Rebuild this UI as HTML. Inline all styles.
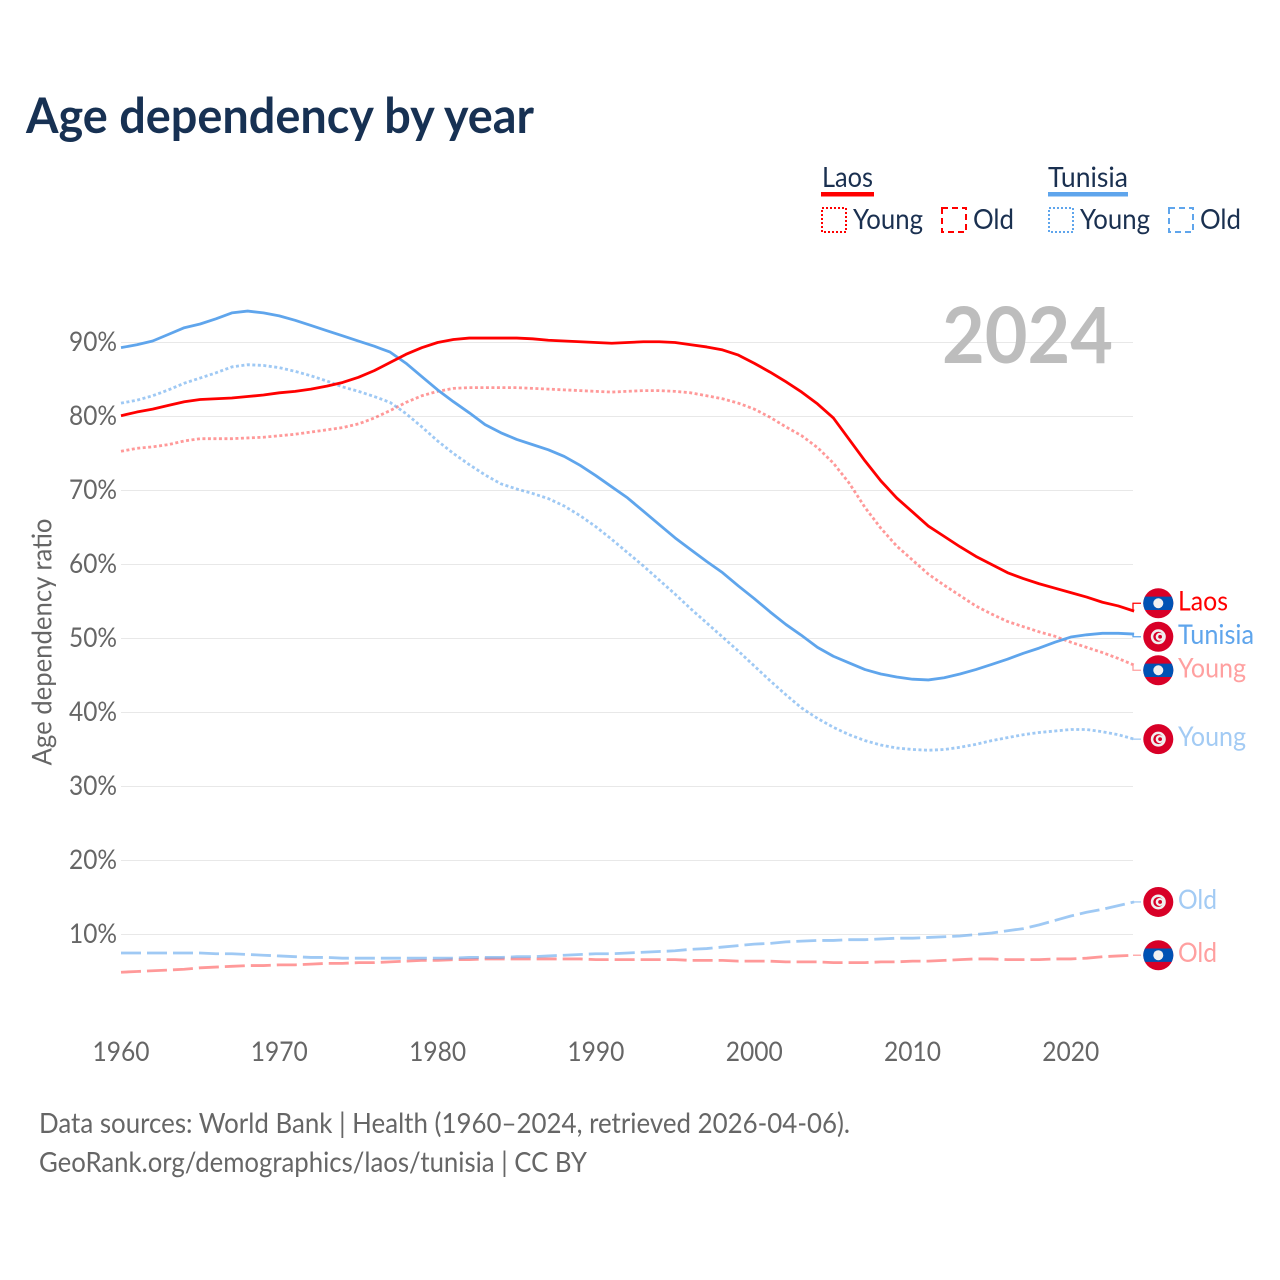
<!DOCTYPE html>
<html lang="en">
<head>
<meta charset="utf-8">
<title>Age dependency by year</title>
<style>
html,body{margin:0;padding:0;background:#fff;}
svg{display:block;font-family:"Lato","Carlito","Liberation Sans",sans-serif;}
</style>
</head>
<body>
<svg id="chart" xmlns="http://www.w3.org/2000/svg" width="1280" height="1280" viewBox="0 0 1280 1280">
  <rect width="1280" height="1280" fill="#fff"/>
  <text x="26" y="133" font-size="49" font-weight="700" fill="#173153" textLength="508" lengthAdjust="spacingAndGlyphs">Age dependency by year</text>

  <g font-size="28" fill="#1a3050">
    <g>
      <text x="822" y="187" textLength="51" lengthAdjust="spacingAndGlyphs">Laos</text>
      <rect x="821" y="192" width="53" height="4.5" fill="#ff0000"/>
      <rect x="822" y="208" width="24" height="24" fill="none" stroke="#ff0000" stroke-width="2" stroke-dasharray="2 2"/>
      <text x="853" y="229" textLength="70" lengthAdjust="spacingAndGlyphs">Young</text>
      <rect x="942" y="208" width="24" height="24" fill="none" stroke="#ff0000" stroke-width="2" stroke-dasharray="6 4"/>
      <text x="973" y="229" textLength="41" lengthAdjust="spacingAndGlyphs">Old</text>
    </g>
    <g>
      <text x="1048" y="187" textLength="80" lengthAdjust="spacingAndGlyphs">Tunisia</text>
      <rect x="1048" y="192" width="80" height="4.5" fill="#5fa5ec"/>
      <rect x="1049" y="208" width="24" height="24" fill="none" stroke="#5fa5ec" stroke-width="2" stroke-dasharray="2 2"/>
      <text x="1080" y="229" textLength="70" lengthAdjust="spacingAndGlyphs">Young</text>
      <rect x="1169" y="208" width="24" height="24" fill="none" stroke="#5fa5ec" stroke-width="2" stroke-dasharray="6 4"/>
      <text x="1200" y="229" textLength="41" lengthAdjust="spacingAndGlyphs">Old</text>
    </g>
  </g>

  <g id="grid"></g>
  <g id="yticks"></g>
  <g id="xticks"></g>
  <text transform="translate(51.5 642) rotate(-90)" text-anchor="middle" font-size="27" fill="#666" textLength="247" lengthAdjust="spacingAndGlyphs">Age dependency ratio</text>
  <text x="1113" y="363" text-anchor="end" font-size="78" font-weight="700" fill="#bdbdbd" textLength="171" lengthAdjust="spacingAndGlyphs">2024</text>
  <g id="lines"></g>
  <g id="labels"></g>

  <text x="39" y="1133" font-size="28" fill="#666" textLength="811" lengthAdjust="spacingAndGlyphs">Data sources: World Bank | Health (1960–2024, retrieved 2026-04-06).</text>
  <text x="39" y="1172" font-size="28" fill="#666" textLength="548" lengthAdjust="spacingAndGlyphs">GeoRank.org/demographics/laos/tunisia | CC BY</text>
</svg>
<script>
const startYear = 1960;
const xTickLabels = ["1960","1970","1980","1990","2000","2010","2020"];
const yTickValues = [10,20,30,40,50,60,70,80,90];

const laosTotal = [
  80.1,80.6,81.0,81.5,82.0,82.3,82.4,82.5,82.7,82.9,
  83.2,83.4,83.7,84.1,84.6,85.3,86.2,87.3,88.4,89.3,
  90.0,90.4,90.6,90.6,90.6,90.6,90.5,90.3,90.2,90.1,
  90.0,89.9,90.0,90.1,90.1,90.0,89.7,89.4,89.0,88.3,
  87.2,86.0,84.7,83.3,81.7,79.8,76.9,74.0,71.3,69.0,
  67.1,65.2,63.8,62.4,61.1,60.0,58.9,58.1,57.4,56.8,
  56.2,55.6,54.9,54.4,53.7
];
const tunisiaTotal = [
  89.3,89.7,90.2,91.1,92.0,92.5,93.2,94.0,94.25,94.0,
  93.6,93.0,92.3,91.6,90.9,90.2,89.5,88.7,87.2,85.4,
  83.6,82.0,80.5,78.9,77.8,76.9,76.2,75.5,74.6,73.4,
  72.0,70.5,69.0,67.2,65.4,63.6,62.0,60.4,58.9,57.1,
  55.4,53.6,51.9,50.4,48.8,47.6,46.7,45.8,45.2,44.8,
  44.5,44.4,44.7,45.2,45.8,46.5,47.2,48.0,48.7,49.5,
  50.2,50.5,50.7,50.7,50.6
];
const laosYoung = [
  75.3,75.7,75.9,76.2,76.7,77.0,77.0,77.0,77.1,77.2,
  77.4,77.6,77.9,78.2,78.5,79.0,79.8,80.8,81.9,82.8,
  83.4,83.8,83.9,83.9,83.9,83.9,83.8,83.7,83.6,83.5,
  83.4,83.3,83.4,83.5,83.5,83.4,83.2,82.8,82.4,81.8,
  81.0,79.9,78.6,77.4,75.8,73.7,71.0,67.7,64.9,62.5,
  60.6,58.7,57.2,55.8,54.4,53.3,52.3,51.6,50.9,50.3,
  49.5,48.8,48.1,47.3,46.4
];
const tunisiaYoung = [
  81.8,82.2,82.8,83.6,84.5,85.2,85.9,86.7,87.0,86.9,
  86.6,86.1,85.5,84.8,84.0,83.4,82.7,81.9,80.4,78.6,
  76.7,75.0,73.5,72.1,70.9,70.2,69.6,68.9,67.9,66.6,
  65.1,63.4,61.6,59.8,57.9,56.0,54.0,52.1,50.2,48.3,
  46.3,44.3,42.4,40.6,39.2,38.0,37.0,36.2,35.6,35.2,
  35.0,34.9,35.0,35.3,35.7,36.2,36.6,37.0,37.3,37.5,
  37.7,37.7,37.4,37.0,36.4
];
const laosOld = [
  4.9,5.0,5.1,5.2,5.3,5.5,5.6,5.7,5.8,5.8,
  5.9,5.9,6.0,6.1,6.1,6.2,6.2,6.3,6.4,6.5,
  6.5,6.6,6.6,6.7,6.7,6.7,6.7,6.7,6.7,6.7,
  6.6,6.6,6.6,6.6,6.6,6.6,6.5,6.5,6.5,6.4,
  6.4,6.4,6.3,6.3,6.3,6.2,6.2,6.2,6.3,6.3,
  6.4,6.4,6.5,6.6,6.7,6.7,6.6,6.6,6.6,6.7,
  6.7,6.8,7.0,7.1,7.2
];
const tunisiaOld = [
  7.5,7.5,7.5,7.5,7.5,7.5,7.4,7.4,7.3,7.2,
  7.1,7.0,6.9,6.9,6.8,6.8,6.8,6.8,6.8,6.8,
  6.8,6.8,6.9,6.9,6.9,7.0,7.0,7.1,7.2,7.3,
  7.4,7.4,7.5,7.6,7.7,7.8,8.0,8.1,8.3,8.5,
  8.7,8.8,9.0,9.1,9.2,9.2,9.3,9.3,9.4,9.5,
  9.5,9.6,9.7,9.8,10.0,10.2,10.5,10.8,11.3,11.9,
  12.5,13.0,13.4,13.9,14.4
];

const NS = "http://www.w3.org/2000/svg";
const xScale = year => 121 + (year - startYear) * 15.83;
const yScale = v => 1008.5 - 7.4 * v;

function make(tag, attrs, parent, text) {
  const node = document.createElementNS(NS, tag);
  for (const k in attrs) node.setAttribute(k, attrs[k]);
  if (text !== undefined) node.textContent = text;
  parent.appendChild(node);
  return node;
}

const series = [
  {key:"laos-old", values:laosOld, country:"laos", label:"Old", color:"#ff0000", lineOpacity:.4, labelColor:"#ffa0a0", dash:"20 6", labelWidth:39},
  {key:"tunisia-old", values:tunisiaOld, country:"tunisia", label:"Old", color:"#5fa5ec", lineOpacity:.6, labelColor:"#a3cbf4", dash:"20 6", labelWidth:39},
  {key:"laos-young", values:laosYoung, country:"laos", label:"Young", color:"#ff0000", lineOpacity:.4, labelColor:"#ffa0a0", dash:"3 2.5", labelWidth:68},
  {key:"tunisia-young", values:tunisiaYoung, country:"tunisia", label:"Young", color:"#5fa5ec", lineOpacity:.6, labelColor:"#a3cbf4", dash:"3 2.5", labelWidth:68},
  {key:"tunisia-total", values:tunisiaTotal, country:"tunisia", label:"Tunisia", color:"#5fa5ec", lineOpacity:1, labelColor:"#5fa5ec", dash:"", labelWidth:76},
  {key:"laos-total", values:laosTotal, country:"laos", label:"Laos", color:"#ff0000", lineOpacity:1, labelColor:"#ff0000", dash:"", labelWidth:50}
];

const gridG = document.getElementById("grid");
const yG = document.getElementById("yticks");
const xG = document.getElementById("xticks");
const linesG = document.getElementById("lines");
const labelsG = document.getElementById("labels");

yTickValues.forEach(v => {
  const g = make("line", {x1:121, x2:1133, y1:yScale(v), y2:yScale(v), stroke:"#e8e8e8", "stroke-width":1}, gridG);
  
  
  const t = make("text", {x:117, y:yScale(v) + 8.5, "text-anchor":"end", "font-size":27, fill:"#666", textLength:48, lengthAdjust:"spacingAndGlyphs"}, yG, v + "%");
  
  
});

xTickLabels.forEach(label => {
  const t = make("text", {x:xScale(+label), y:1061, "text-anchor":"middle", "font-size":27, fill:"#666", textLength:57, lengthAdjust:"spacingAndGlyphs"}, xG, label);
  
  
});

series.forEach(s => {
  const pts = s.values.map((v, i) => xScale(startYear + i).toFixed(2) + "," + yScale(v).toFixed(2)).join(" ");
  const attrs = {points:pts, fill:"none", stroke:s.color, "stroke-width":2.8, "stroke-opacity":s.lineOpacity, "stroke-linejoin":"round"};
  if (s.dash) attrs["stroke-dasharray"] = s.dash;
  const line = make("polyline", attrs, linesG);
  
  
});

/* dodge end labels so flags keep a minimum separation */
const minGap = 33.5;
const placed = series.map(s => ({s, target:yScale(s.values[s.values.length - 1])})).sort((a, b) => a.target - b.target);
let clusters = placed.map(p => ({items:[p], mean:p.target}));
let merged = true;
while (merged) {
  merged = false;
  for (let i = 0; i < clusters.length - 1; i++) {
    const a = clusters[i], b = clusters[i + 1];
    const aEnd = a.mean + (a.items.length - 1) * minGap / 2;
    const bStart = b.mean - (b.items.length - 1) * minGap / 2;
    if (bStart - aEnd < minGap) {
      const items = a.items.concat(b.items);
      const offsets = items.map((_, k) => (k - (items.length - 1) / 2) * minGap);
      const mean = items.reduce((sum, it, k) => sum + it.target - offsets[k], 0) / items.length;
      clusters.splice(i, 2, {items, mean});
      merged = true;
      break;
    }
  }
}
clusters.forEach(c => c.items.forEach((p, k) => { p.y = c.mean + (k - (c.items.length - 1) / 2) * minGap; }));

function drawFlag(parent, country, cy) {
  const cx = 1158.3, r = 15;
  make("circle", {cx, cy, r, fill:"#d80027"}, parent);
  if (country === "laos") {
    make("path", {d:`M${cx - 13.4} ${cy - 6.7}H${cx + 13.4}A15 15 0 0 1 ${cx + 13.4} ${cy + 6.7}H${cx - 13.4}A15 15 0 0 1 ${cx - 13.4} ${cy - 6.7}Z`, fill:"#0052b4"}, parent);
    make("circle", {cx, cy, r:5, fill:"#f0f0f0"}, parent);
  } else {
    make("circle", {cx, cy, r:7.5, fill:"#f0f0f0"}, parent);
    make("circle", {cx, cy, r:5, fill:"#d80027"}, parent);
    make("circle", {cx:cx + 1.4, cy, r:4, fill:"#f0f0f0"}, parent);
    make("circle", {cx:cx + 1.8, cy, r:1.9, fill:"#d80027"}, parent);
  }
}

placed.forEach(p => {
  const s = p.s;
  const g = make("g", {}, labelsG);
  
  
  const connector = make("polyline", {points:`1133,${p.target} 1133,${p.y} 1141,${p.y}`, fill:"none", stroke:s.labelColor, "stroke-width":1.3}, g);
  
  
  const flag = make("g", {}, g);
  
  
  drawFlag(flag, s.country, p.y);
  const t = make("text", {x:1178, y:p.y + 7, "font-size":27.5, fill:s.labelColor, textLength:s.labelWidth, lengthAdjust:"spacingAndGlyphs"}, g, s.label);
  
  
});
</script>
</body>
</html>
